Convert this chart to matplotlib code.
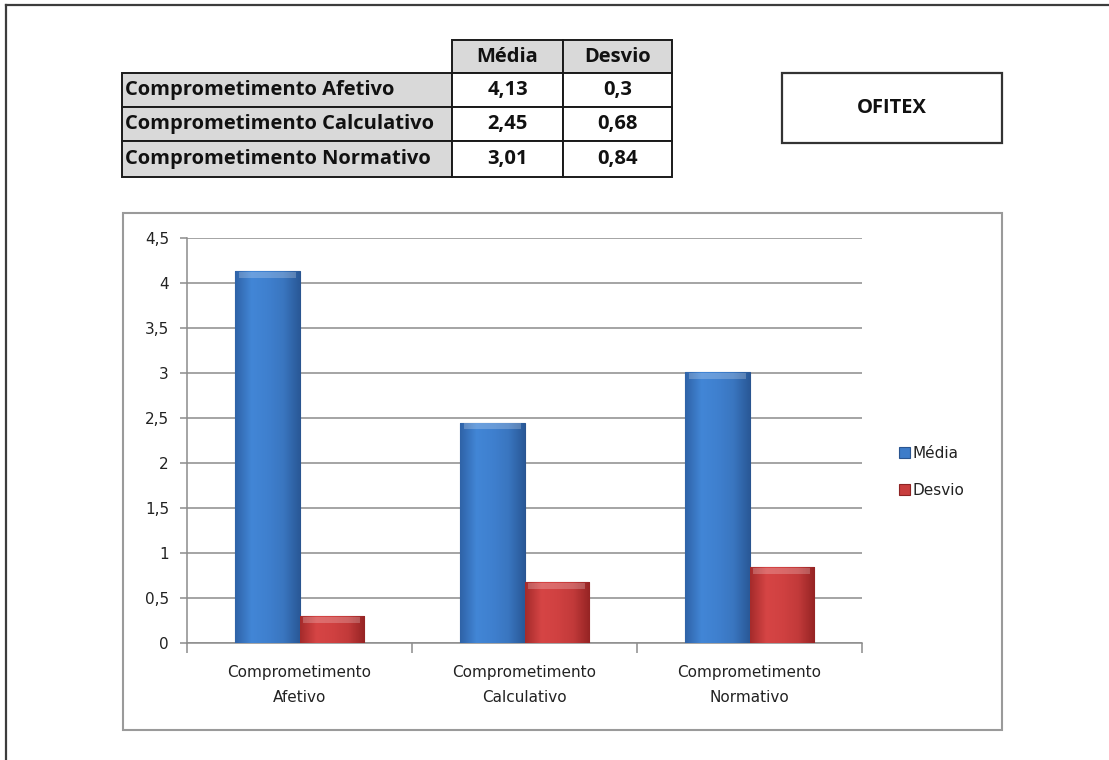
import numpy as np
import matplotlib
matplotlib.use("Agg")
import matplotlib.pyplot as plt
from matplotlib.patches import Rectangle
from matplotlib.lines import Line2D
from matplotlib.colors import LinearSegmentedColormap

# ---- data ----
categories = ["Comprometimento Afetivo", "Comprometimento Calculativo", "Comprometimento Normativo"]
axis_labels = ["Comprometimento\nAfetivo", "Comprometimento\nCalculativo", "Comprometimento\nNormativo"]
media = [4.13, 2.45, 3.01]
desvio = [0.30, 0.68, 0.84]
media_txt = ["4,13", "2,45", "3,01"]
desvio_txt = ["0,3", "0,68", "0,84"]
series_names = ["Média", "Desvio"]
yticks = [0, 0.5, 1, 1.5, 2, 2.5, 3, 3.5, 4, 4.5]
ytick_labels = ["0", "0,5", "1", "1,5", "2", "2,5", "3", "3,5", "4", "4,5"]
title = "OFITEX"

W, H = 1109, 760
fig = plt.figure(figsize=(W / 100, H / 100), dpi=100)
fig.patch.set_facecolor("white")

def fx(px):
    return px / W

def fy(py):
    return 1 - py / H

# outer frame (top and left edges)
fig.add_artist(Line2D([fx(6), fx(1109)], [fy(5), fy(5)], color="#3c3c3c", lw=1.6))
fig.add_artist(Line2D([fx(6), fx(6)], [fy(5), fy(760)], color="#3c3c3c", lw=1.6))

# ---- table ----
bold_font = "Open Sans"
col_x = [122, 452, 563, 672]
row_y = [40, 73, 107, 141, 177]
gray = "#d9d9d9"
tfs = 14.5

def cell(x0, x1, y0, y1, fc):
    fig.add_artist(Rectangle((fx(x0), fy(y1)), fx(x1) - fx(x0), fy(y0) - fy(y1),
                             facecolor=fc, edgecolor="#1a1a1a", lw=1.4,
                             transform=fig.transFigure))

for j, name in enumerate(series_names):
    cell(col_x[j + 1], col_x[j + 2], row_y[0], row_y[1], gray)
    fig.text(fx((col_x[j + 1] + col_x[j + 2]) / 2), fy((row_y[0] + row_y[1]) / 2), name,
             ha="center", va="center", fontsize=tfs, fontweight="bold",
             family=bold_font, color="#111111")
for i, cat in enumerate(categories):
    y0, y1 = row_y[i + 1], row_y[i + 2]
    cell(col_x[0], col_x[1], y0, y1, gray)
    cell(col_x[1], col_x[2], y0, y1, "white")
    cell(col_x[2], col_x[3], y0, y1, "white")
    fig.text(fx(col_x[0] + 3), fy((y0 + y1) / 2), cat, ha="left", va="center",
             fontsize=tfs, fontweight="bold", family=bold_font, color="#111111")
    fig.text(fx((col_x[1] + col_x[2]) / 2), fy((y0 + y1) / 2), media_txt[i],
             ha="center", va="center", fontsize=tfs, fontweight="bold",
             family=bold_font, color="#111111")
    fig.text(fx((col_x[2] + col_x[3]) / 2), fy((y0 + y1) / 2), desvio_txt[i],
             ha="center", va="center", fontsize=tfs, fontweight="bold",
             family=bold_font, color="#111111")

# title box
fig.add_artist(Rectangle((fx(782), fy(143)), fx(1002) - fx(782), fy(73) - fy(143),
                         facecolor="white", edgecolor="#333333", lw=1.6,
                         transform=fig.transFigure))
fig.text(fx(892), fy(108), title, ha="center", va="center", fontsize=tfs,
         fontweight="bold", family=bold_font, color="#111111")

# chart area frame
fig.add_artist(Rectangle((fx(123), fy(730)), fx(1002) - fx(123), fy(213) - fy(730),
                         facecolor="none", edgecolor="#9a9a9a", lw=1.5,
                         transform=fig.transFigure))

# ---- bar chart ----
ax = fig.add_axes([fx(187), fy(643), fx(862) - fx(187), fy(238) - fy(643)])
ax.set_facecolor("none")
x = np.arange(len(categories))
bw = 0.285

blue_cmap = LinearSegmentedColormap.from_list(
    "b", ["#2f63a8", "#4286d6", "#3f80cf", "#3a76c0", "#2a5998"])
red_cmap = LinearSegmentedColormap.from_list(
    "r", ["#a52b2b", "#d64545", "#d04141", "#c23a3a", "#962424"])

bars_m = ax.bar(x - bw / 2, media, bw, color="#3d7cc9", edgecolor="#2a5590",
                lw=0.8, zorder=3, label=series_names[0])
bars_d = ax.bar(x + bw / 2, desvio, bw, color="#c83d3d", edgecolor="#8e2424",
                lw=0.8, zorder=3, label=series_names[1])

grad = np.linspace(0, 1, 64).reshape(1, -1)
for bars, cmap in ((bars_m, blue_cmap), (bars_d, red_cmap)):
    for b in bars:
        x0, y0 = b.get_x(), b.get_y()
        w, h = b.get_width(), b.get_height()
        im = ax.imshow(grad, cmap=cmap, aspect="auto", extent=(x0, x0 + w, y0, y0 + h),
                       zorder=3.5, interpolation="bicubic")
        im.set_clip_path(b)
        # light bevel strip at the top of each bar
        ax.add_patch(Rectangle((x0 + w * 0.05, y0 + h - 0.075), w * 0.9, 0.065,
                               facecolor="white", alpha=0.22, edgecolor="none", zorder=4))

ax.set_xlim(-0.5, len(categories) - 0.5)
ax.set_ylim(0, 4.5)
ax.set_yticks(yticks)
ax.set_yticklabels(ytick_labels, fontsize=11, family="DejaVu Sans", color="#222222")
ax.yaxis.grid(True, color="#8c8c8c", lw=1.1, zorder=0)
ax.set_axisbelow(True)

ax.set_xticks(np.arange(-0.5, len(categories), 1.0))
ax.set_xticklabels([])
ax.tick_params(axis="x", direction="out", length=7, width=1.1, color="#8c8c8c")
ax.tick_params(axis="y", direction="out", length=5, width=1.1, color="#8c8c8c", pad=8)
for i, lab in enumerate(axis_labels):
    ax.text(x[i], -0.25, lab, ha="center", va="top", fontsize=11,
            family="DejaVu Sans", color="#222222", linespacing=1.75)

for s in ("top", "right"):
    ax.spines[s].set_visible(False)
ax.spines["left"].set_color("#8c8c8c")
ax.spines["bottom"].set_color("#8c8c8c")
ax.spines["left"].set_linewidth(1.1)
ax.spines["bottom"].set_linewidth(1.1)

leg = fig.legend(handles=[bars_m, bars_d], labels=series_names, loc="center left",
                 bbox_to_anchor=(fx(893), fy(472)), frameon=False, fontsize=11,
                 handlelength=0.7, handleheight=0.7, handletextpad=0.2,
                 labelspacing=1.45, borderaxespad=0)
for t in leg.get_texts():
    t.set_color("#222222")

fig.savefig("out.png", dpi=100)
